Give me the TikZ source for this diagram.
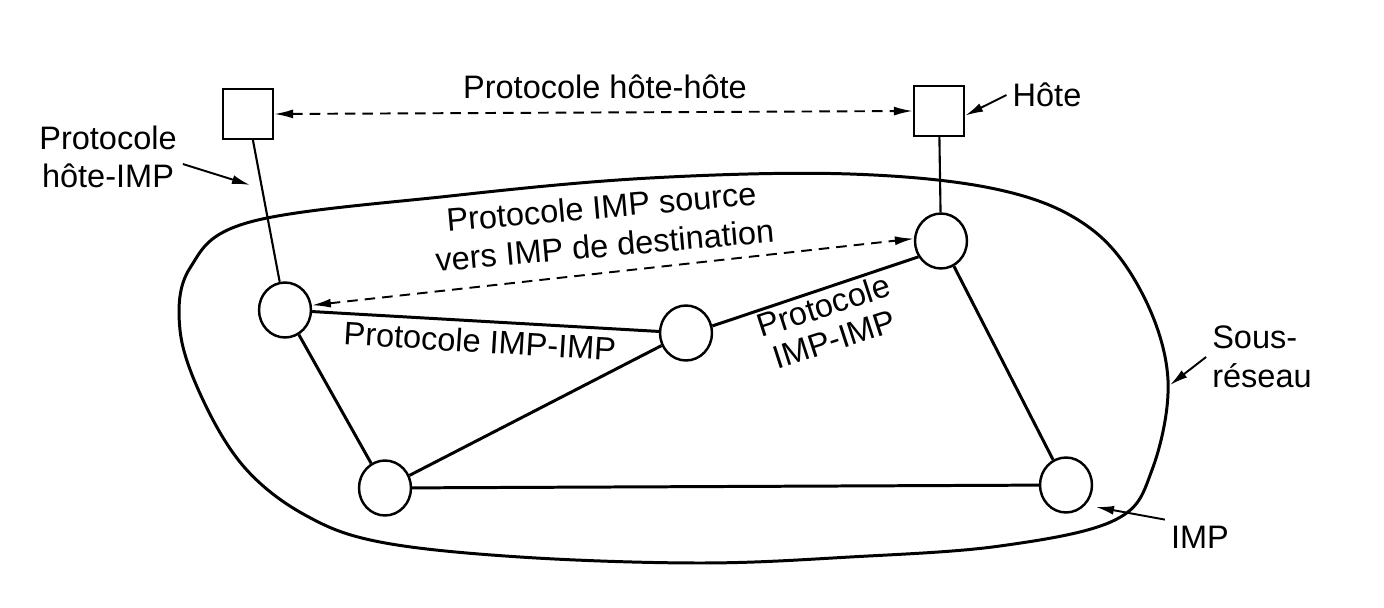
\documentclass[tikz,border=0pt]{standalone}
\usepackage{fontspec}
\setmainfont{Liberation Sans}
\usetikzlibrary{shapes.geometric,arrows.meta}
\tikzset{
  imp/.style={ellipse, draw, line width=1.4pt, minimum width=1.04cm, minimum height=1.1cm, inner sep=0pt},
  hostbox/.style={draw, line width=1.3pt, minimum size=1cm, inner sep=0pt},
  link/.style={line width=1.7pt},
  hostlink/.style={line width=1.2pt},
  protoline/.style={line width=1.1pt, dash pattern=on 6pt off 4pt, {Latex[length=3.8mm,width=1.8mm]}-{Latex[length=3.8mm,width=1.8mm]}},
  ptr/.style={line width=1.1pt, -{Latex[length=3.6mm,width=1.8mm]}}
}
\begin{document}
\begin{tikzpicture}[x=0.02cm, y=-0.02cm, font=\fontsize{18.5}{22}\selectfont]
  \useasboundingbox (0,0) rectangle (1384,608);
  % sous-reseau
  \draw[link] plot[smooth cycle, tension=0.6] coordinates {
    (250,222) (450,196) (650,178) (850,174) (1000,190) (1090,228) (1143,295)
    (1168,380) (1152,470) (1115,520) (1000,546) (850,557) (700,563) (520,557)
    (380,542) (305,515) (245,468) (203,400) (180,330) (190,268)};
  % IMP
  \node[imp] (impA) at (285,310) {};
  \node[imp] (impB) at (686,333) {};
  \node[imp] (impC) at (941,241) {};
  \node[imp] (impD) at (385,488) {};
  \node[imp] (impE) at (1066,485) {};
  % hotes
  \node[hostbox] (hostL) at (248,114) {};
  \node[hostbox] (hostR) at (939,111) {};
  \draw[hostlink] (hostL) -- (impA);
  \draw[hostlink] (hostR) -- (impC);
  \draw[link] (impA) -- (impB);
  \draw[link] (impA) -- (impD);
  \draw[link] (impD) -- (impB);
  \draw[link] (impD) -- (impE);
  \draw[link] (impB.15) -- (impC.215);
  \draw[link] (impC) -- (impE);
  % protocoles
  \draw[protoline] (hostL.east) -- (hostR.west);
  \draw[protoline] (impA.10) -- (impC.175);
  \node (lblhh) at (605,87) {Protocole hôte-hôte};
  \node[align=center] (lblhi) at (108,157) {Protocole\\hôte-IMP};
  \node (lblhote) at (1047,95) {Hôte};
  \node[align=center, rotate=5] (lblsrc) at (603,226) {Protocole IMP source\\vers IMP de destination};
  \node[rotate=-3.5] (lblii) at (480,341) {Protocole IMP-IMP};
  \node[align=center, rotate=18, font=\fontsize{18.5}{20}\selectfont] (lblii2) at (829,322) {Protocole\\IMP-IMP};
  \node[align=left] (lblsub) at (1262,357) {Sous-\\réseau};
  \node (lblimp) at (1200,537) {IMP};
  % fleches
  \coordinate (tiphi) at (250,185);
  \coordinate (tipsub) at (1170,385);
  \coordinate (tipimp) at (1096,507);
  \draw[ptr] ([yshift=-4pt]lblhi.east) -- (tiphi);
  \draw[ptr] (lblhote.west) -- (hostR.-10);
  \draw[ptr] (lblsub.west) -- (tipsub);
  \draw[ptr] (lblimp.north west) -- (tipimp);
\end{tikzpicture}
\end{document}
